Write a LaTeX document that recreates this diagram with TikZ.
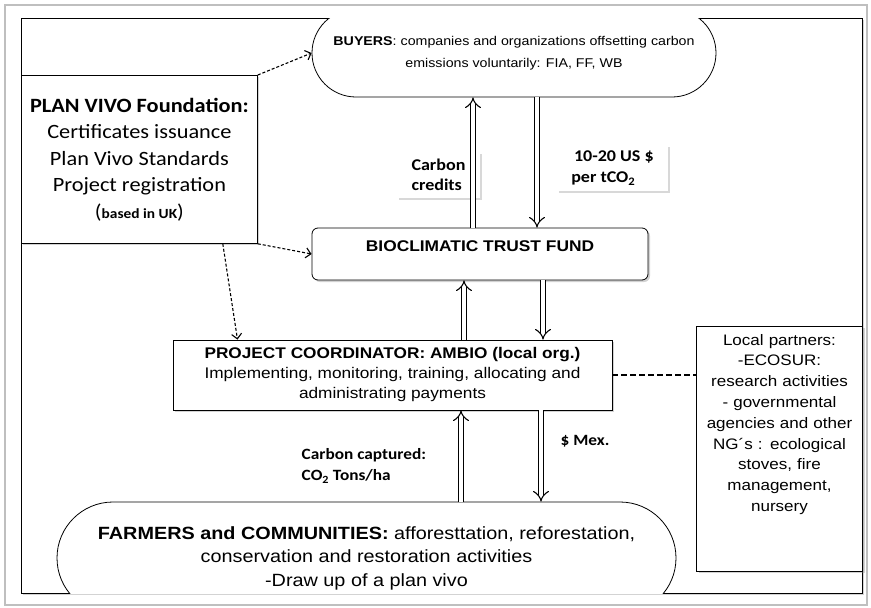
\documentclass[tikz,border=0pt]{standalone}
\usepackage{fontspec}
\setmainfont[FakeStretch=1.12]{Liberation Sans}
\newfontfamily\calibri[FakeStretch=1.1]{Carlito}
\usetikzlibrary{arrows.meta,shapes.misc,shadows}

\begin{document}
\begin{tikzpicture}[x=1pt, y=-1pt, thick,
    box/.style = {draw, fill=white, align=center, inner sep=3pt},
    pill/.style = {draw, fill=white, rounded rectangle, align=center, inner sep=2pt},
    tag/.style = {fill=white, align=left, inner sep=4pt,
                  drop shadow={opacity=0.3, shadow xshift=1.5pt, shadow yshift=-1.5pt}},
    shade/.style = {drop shadow={opacity=0.35, shadow xshift=2pt, shadow yshift=-2pt}},
    dblarrow/.style = {double, double distance=4.5pt, line width=1.1pt, -{Implies}},
    dasharrow/.style = {dash pattern=on 3pt off 2pt, line width=1.1pt, -{Straight Barb[length=5pt]}}]
  \useasboundingbox (0,0) rectangle (871,608);
  % outer and inner frame
  \draw[black!25, line width=2pt] (5,5) rectangle (867,605);
  \draw[shade, fill=white, line width=0.8pt] (21,18) rectangle (862,593);

  % ovals cut by the frame
  \begin{scope}
    \clip (21,18) rectangle (862,593);
    \node[pill, minimum width=408pt, minimum height=88pt, font=\fontsize{12.7}{22}\selectfont] (buyers) at (514,53)
      {\textbf{BUYERS}: companies and organizations offsetting carbon\\ emissions voluntarily: FIA, FF, WB};
    \node[pill, minimum width=623pt, minimum height=112pt, font=\fontsize{17.7}{23.5}\selectfont] (farmers) at (366.5,558)
      {\textbf{FARMERS and COMMUNITIES:} afforesttation, reforestation,\\ conservation and restoration activities\\ -Draw up of a plan vivo};
  \end{scope}

  \node[box, shade, anchor=north west, minimum width=236pt, minimum height=168pt, font=\calibri\fontsize{20.3}{26.5}\selectfont] (vivo) at (21,75)
    {\textbf{PLAN VIVO Foundation:}\\ Certificates issuance\\ Plan Vivo Standards\\ Project registration\\ {\fontsize{20}{20}\selectfont(}{\bfseries\fontsize{14}{15}\selectfont based in UK}{\fontsize{20}{20}\selectfont)}};
  \node[box, shade, rounded corners=6pt, minimum width=336pt, minimum height=52pt, text depth=15pt, font=\bfseries\fontsize{15.5}{17}\selectfont] (fund) at (480,254)
    {BIOCLIMATIC TRUST FUND};
  \node[box, shade, minimum width=439pt, minimum height=70pt, font=\fontsize{15.4}{20}\selectfont] (ambio) at (392.5,375)
    {\textbf{PROJECT COORDINATOR: AMBIO (local org.)}\\ Implementing, monitoring, training, allocating and\\ administrating payments};
  \node[box, shade, anchor=north, minimum width=165pt, minimum height=245pt, text width=160pt, font=\fontsize{15.2}{20.8}\selectfont] (partners) at (779.5,326)
    {Local partners:\\ -ECOSUR:\\ research activities\\ - governmental\\ agencies and other\\ NG´s : ecological\\ stoves, fire\\ management,\\ nursery\\ \rule{0pt}{48pt}};

  % flow labels
  \node[tag, font=\calibri\bfseries\fontsize{16.4}{20}\selectfont, minimum width=83pt, minimum height=46pt] (credits) at (438.5,175)
    {Carbon\\ credits};
  \node[tag, font=\calibri\bfseries\fontsize{16.4}{21}\selectfont, minimum width=111pt, minimum height=46pt] (price) at (612.5,168)
    {\,10-20 US \$\\ per tCO\textsubscript{2}};
  \node[font=\calibri\bfseries\fontsize{15.7}{21}\selectfont, align=left, anchor=west] (captured) at (298,466)
    {Carbon captured:\\ CO\textsubscript{2} Tons/ha};
  \node[font=\calibri\bfseries\fontsize{15.7}{17}\selectfont, anchor=west] (mex) at (557,441) {\$ Mex.};

  % money and carbon flows
  \draw[dblarrow] ([xshift=-7pt]fund.north) -- ([xshift=-7pt]fund.north |- buyers.south);
  \draw[dblarrow] ([xshift=57pt]fund.north |- buyers.south) -- ([xshift=57pt]fund.north);
  \draw[dblarrow] ([xshift=71.5pt]ambio.north) -- ([xshift=71.5pt]ambio.north |- fund.south);
  \draw[dblarrow] ([xshift=150.5pt]ambio.north |- fund.south) -- ([xshift=150.5pt]ambio.north);
  \draw[dblarrow] ([xshift=68.5pt]ambio.south |- farmers.north) -- ([xshift=68.5pt]ambio.south);
  \draw[dblarrow] ([xshift=148.5pt]ambio.south) -- ([xshift=148.5pt]ambio.south |- farmers.north);

  % links of the foundation and the partners
  \draw[dasharrow] (vivo.north east) -- (buyers.west);
  \draw[dasharrow] (vivo.south east) -- (fund.west);
  \draw[dasharrow] ([xshift=-35pt]vivo.south east) -- ([xshift=-155pt]ambio.north);
  \draw[dash pattern=on 6pt off 3pt, line width=2pt] (ambio.east) -- (ambio.east -| partners.west);
\end{tikzpicture}
\end{document}
